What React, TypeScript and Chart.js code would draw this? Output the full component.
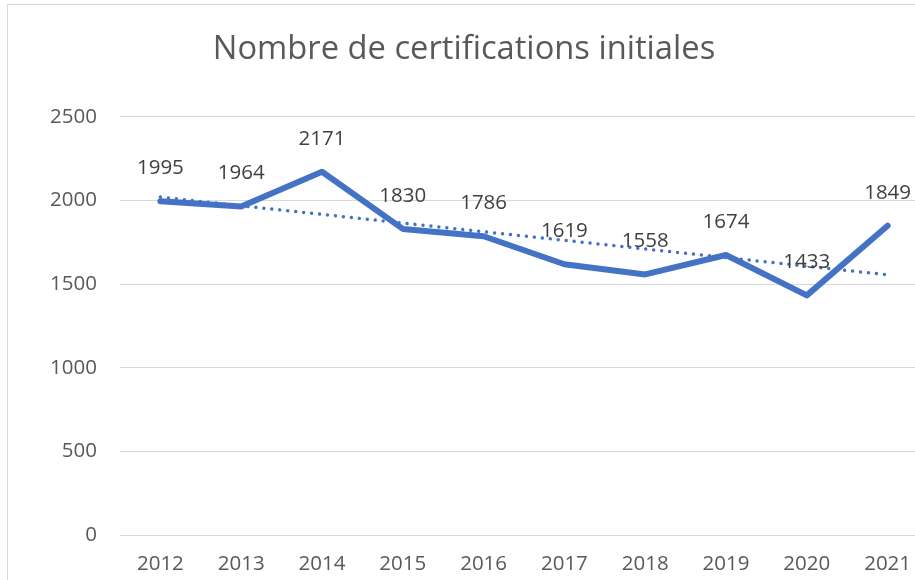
import React, { useEffect, useRef } from "react";
import { Chart, registerables } from "chart.js";

Chart.register(...registerables);

const years = ["2012", "2013", "2014", "2015", "2016", "2017", "2018", "2019", "2020", "2021"];
const certifications = [1995, 1964, 2171, 1830, 1786, 1619, 1558, 1674, 1433, 1849];
const trendValues = [2020, 1968, 1917, 1865, 1813, 1762, 1710, 1659, 1607, 1556];
const yTicks = [0, 500, 1000, 1500, 2000, 2500];
const chartTitle = "Nombre de certifications initiales";

const FONT = "'Open Sans', 'DejaVu Sans', sans-serif";
const BLUE = "#4472C4";

const labelPlugin = {
  id: "pointLabels",
  afterDatasetsDraw(chart: any) {
    const meta = chart.getDatasetMeta(1);
    const ctx = chart.ctx;
    ctx.save();
    ctx.font = `20.5px ${FONT}`;
    ctx.fillStyle = "#404040";
    ctx.textAlign = "center";
    ctx.textBaseline = "middle";
    meta.data.forEach((pt: any, i: number) => {
      ctx.fillText(String(certifications[i]), pt.x, pt.y - 33);
    });
    ctx.restore();
  },
};

export default function App() {
  const ref = useRef<HTMLCanvasElement>(null);
  useEffect(() => {
    if (!ref.current) return;
    const chart = new Chart(ref.current, {
      type: "line",
      data: {
        labels: years,
        datasets: [
          {
            label: "Tendance",
            data: trendValues,
            borderColor: BLUE,
            borderWidth: 3.5,
            borderDash: [0.001, 8],
            borderCapStyle: "round",
            pointRadius: 0,
            fill: false,
            tension: 0,
            order: 0,
          },
          {
            label: "Certifications",
            data: certifications,
            borderColor: BLUE,
            borderWidth: 6,
            borderJoinStyle: "round",
            borderCapStyle: "round",
            pointRadius: 0,
            fill: false,
            tension: 0,
            order: 1,
          },
        ],
      },
      options: {
        responsive: false,
        animation: false,
        devicePixelRatio: 1,
        layout: { padding: { left: 0, right: 12, top: 0, bottom: 19.7 } },
        plugins: {
          legend: { display: false },
          tooltip: { enabled: false },
          title: {
            display: true,
            text: chartTitle,
            color: "#595959",
            font: { family: FONT, size: 32.7, weight: "normal" },
            padding: { top: 30, bottom: 47.5 },
          },
        },
        scales: {
          x: {
            offset: true,
            grid: { display: false, drawTicks: false },
            border: { display: false },
            ticks: { color: "#595959", font: { family: FONT, size: 20.5 }, padding: 17, maxRotation: 0 },
            afterFit: (s: any) => { s.height = 45; },
          },
          y: {
            min: 0,
            max: 2500,
            afterBuildTicks: (s: any) => { s.ticks = yTicks.map((v) => ({ value: v })); },
            grid: { color: "#d9d9d9", lineWidth: 1, drawTicks: false },
            border: { display: false },
            ticks: {
              color: "#595959",
              font: { family: FONT, size: 20.5 },
              padding: 23,
              callback: (v: any) => String(v),
            },
            afterFit: (s: any) => { s.width = 120; },
          },
        },
      },
      plugins: [labelPlugin],
    } as any);
    return () => chart.destroy();
  }, []);
  return (
    <div>
      <canvas ref={ref} width={940} height={600} style={{ position: "absolute", left: 0, top: 0 }} />
      <div
        style={{
          position: "absolute",
          left: 7,
          top: 4,
          width: 1000,
          height: 1000,
          borderLeft: "1px solid #d9d9d9",
          borderTop: "1px solid #d9d9d9",
          pointerEvents: "none",
        }}
      />
    </div>
  );
}
